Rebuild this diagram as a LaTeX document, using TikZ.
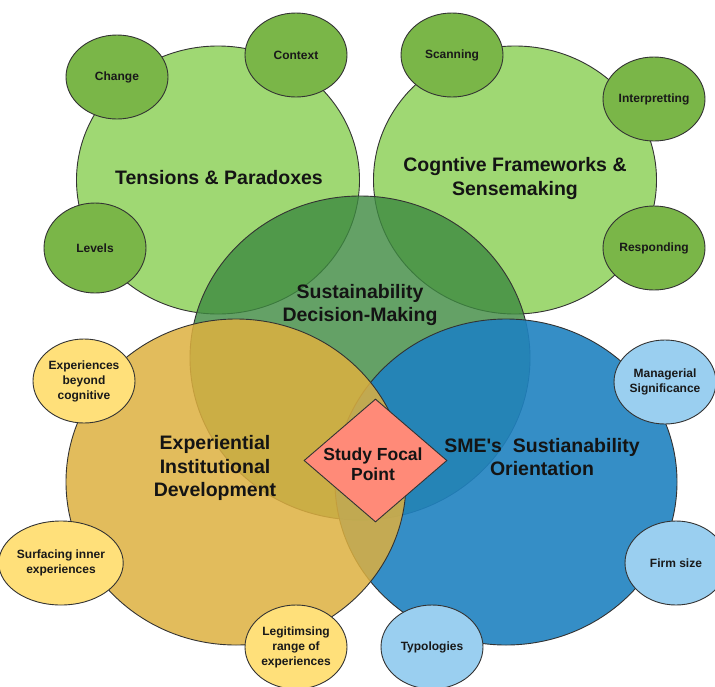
\documentclass[tikz,border=0pt]{standalone}
\usepackage{fontspec}
\setmainfont{Liberation Sans}[Ligatures=TeXOff]
\usetikzlibrary{shapes.geometric}

\definecolor{lightgreen}{HTML}{9FD873}
\definecolor{leafgreen}{HTML}{7AB648}
\definecolor{deepgreen}{HTML}{3D8A40}
\definecolor{oceanblue}{HTML}{1F82C0}
\definecolor{gold}{HTML}{DDB03F}
\definecolor{paleyellow}{HTML}{FFE07A}
\definecolor{skyblue}{HTML}{9ACFF0}
\definecolor{salmon}{HTML}{FF8A78}
\definecolor{edge}{HTML}{333333}

\tikzset{
  bigring/.style={ellipse, draw=edge, line width=0.9pt, inner sep=0pt},
  bubble/.style={ellipse, draw=edge, line width=0.9pt, inner sep=0pt,
    minimum width=102pt, minimum height=84pt, align=center,
    font=\fontsize{12}{15}\selectfont\bfseries, text=black!90},
  bigtext/.style={align=center, font=\fontsize{19.5}{23.5}\selectfont\bfseries, text=black!92},
  focaltext/.style={align=center, font=\fontsize{17.5}{20.5}\selectfont\bfseries, text=black!92},
}

\begin{document}
\begin{tikzpicture}[x=1pt, y=-1pt]
\useasboundingbox (0,0) rectangle (715,686);

% four thematic areas
\node[bigring, fill=lightgreen, minimum width=283pt, minimum height=268pt] (tens) at (218,180) {};
\node[bigring, fill=lightgreen, minimum width=283pt, minimum height=268pt] (cogn) at (515,180) {};
\node[bigring, fill=deepgreen, fill opacity=0.8, minimum width=340pt, minimum height=324pt] (sdm) at (360,358) {};
\node[bigring, fill=oceanblue, fill opacity=0.9, minimum width=342pt, minimum height=326pt] (sme) at (506,482) {};
\node[bigring, fill=gold, fill opacity=0.85, minimum width=340pt, minimum height=326pt] (eid) at (236,482) {};

% area titles
\node[bigtext] (tenst) at (219,178) {Tensions \& Paradoxes};
\node[bigtext] (cognt) at (515,178.5) {Cogntive Frameworks \&\\Sensemaking};
\node[bigtext] (sdmt) at (360,305) {Sustainability\\Decision-Making};
\node[bigtext] (eidt) at (215,468) {Experiential\\Institutional\\Development};
\node[bigtext] (smet) at (542,457) {SME's\ \ Sustianability\\Orientation};

% satellite themes
\node[bubble, fill=leafgreen] (change) at (117,77) {Change};
\node[bubble, fill=leafgreen] (context) at (296,55) {Context};
\node[bubble, fill=leafgreen, minimum height=90pt] (levels) at (95,248) {Levels};
\node[bubble, fill=leafgreen] (scan) at (452,55) {Scanning};
\node[bubble, fill=leafgreen] (interp) at (654,99) {Interpretting};
\node[bubble, fill=leafgreen] (resp) at (654,248) {Responding};
\node[bubble, fill=paleyellow] (beyond) at (84,381) {Experiences\\beyond\\cognitive};
\node[bubble, fill=paleyellow] (inner) at (61,563) {Surfacing inner\\experiences};
\node[bubble, fill=paleyellow] (legit) at (296,647) {Legitimsing\\range of\\experiences};
\node[bubble, fill=skyblue] (manag) at (665,382) {Managerial\\Significance};
\node[bubble, fill=skyblue] (firm) at (676,563) {Firm size};
\node[bubble, fill=skyblue] (typo) at (432,647) {Typologies};

% focal point
\node[diamond, draw=edge, line width=0.9pt, fill=salmon, inner sep=0pt,
  minimum width=143pt, minimum height=123pt, aspect=1.16] (focal) at (375.5,460.5) {};
\node[focaltext] (focalt) at (373,464) {Study Focal\\Point};
\end{tikzpicture}
\end{document}
